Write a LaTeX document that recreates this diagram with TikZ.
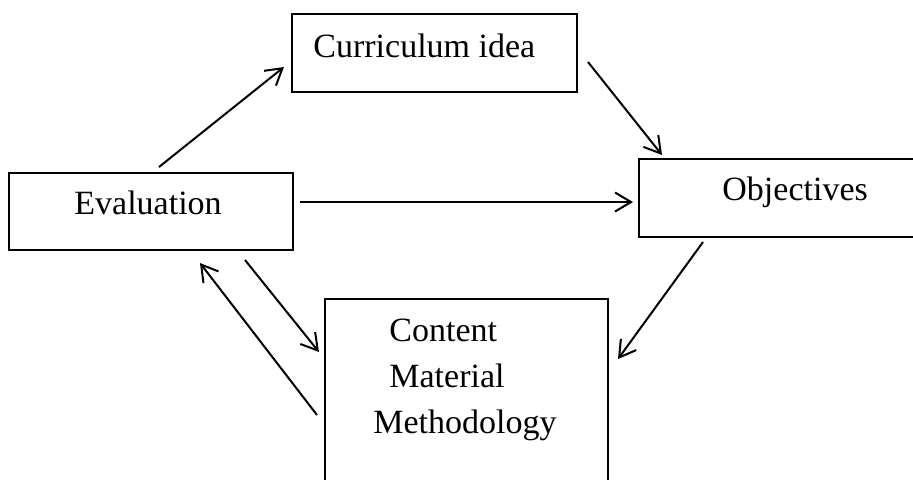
\documentclass[tikz,border=0pt]{standalone}
\usepackage{fontspec}
\setmainfont{Liberation Serif}
\usetikzlibrary{arrows.meta}
\begin{document}
\begin{tikzpicture}[x=0.5pt, y=-0.5pt, >={Straight Barb[length=8pt,width=9.5pt]},
  box/.style={draw, line width=1pt, minimum width=#1, inner sep=0pt},
  label/.style={anchor=base west, inner sep=0pt, font=\fontsize{17}{20}\selectfont},
  flow/.style={->, line width=1pt}]
\path[use as bounding box, clip] (0,0) rectangle (913,479);

\node[box=142.5pt, minimum height=39pt] (curbox) at (434.5,53){};
\node[box=142pt, minimum height=38.5pt] (evalbox) at (151,211.5){};
\node[box=143pt, minimum height=39pt] (objbox) at (782,198){};
\node[box=141.5pt, minimum height=101pt] (contbox) at (466.5,400){};

\node[label] (curidea) at (313,57){Curriculum idea};
\node[label] (eval) at (74,214){Evaluation};
\node[label] (obj) at (722,200){Objectives};
\node[label] (content) at (389,341){Content};
\node[label] (material) at (389,387){Material};
\node[label] (method) at (373,433){Methodology};

\coordinate (e1) at (159,167);  \coordinate (c1) at (284,67);
\coordinate (c2) at (588,62);   \coordinate (o1) at (662,155);
\coordinate (e2) at (300,202);  \coordinate (o2) at (633,202);
\coordinate (o3) at (703,242);  \coordinate (m1) at (618,359);
\coordinate (e3) at (245,260);  \coordinate (m2) at (319,352);
\coordinate (m3) at (317,415);  \coordinate (e4) at (200,263);

\draw[flow] (e1) -- (c1);
\draw[flow] (c2) -- (o1);
\draw[flow] (e2) -- (o2);
\draw[flow] (o3) -- (m1);
\draw[flow] (e3) -- (m2);
\draw[flow] (m3) -- (e4);
\end{tikzpicture}
\end{document}
